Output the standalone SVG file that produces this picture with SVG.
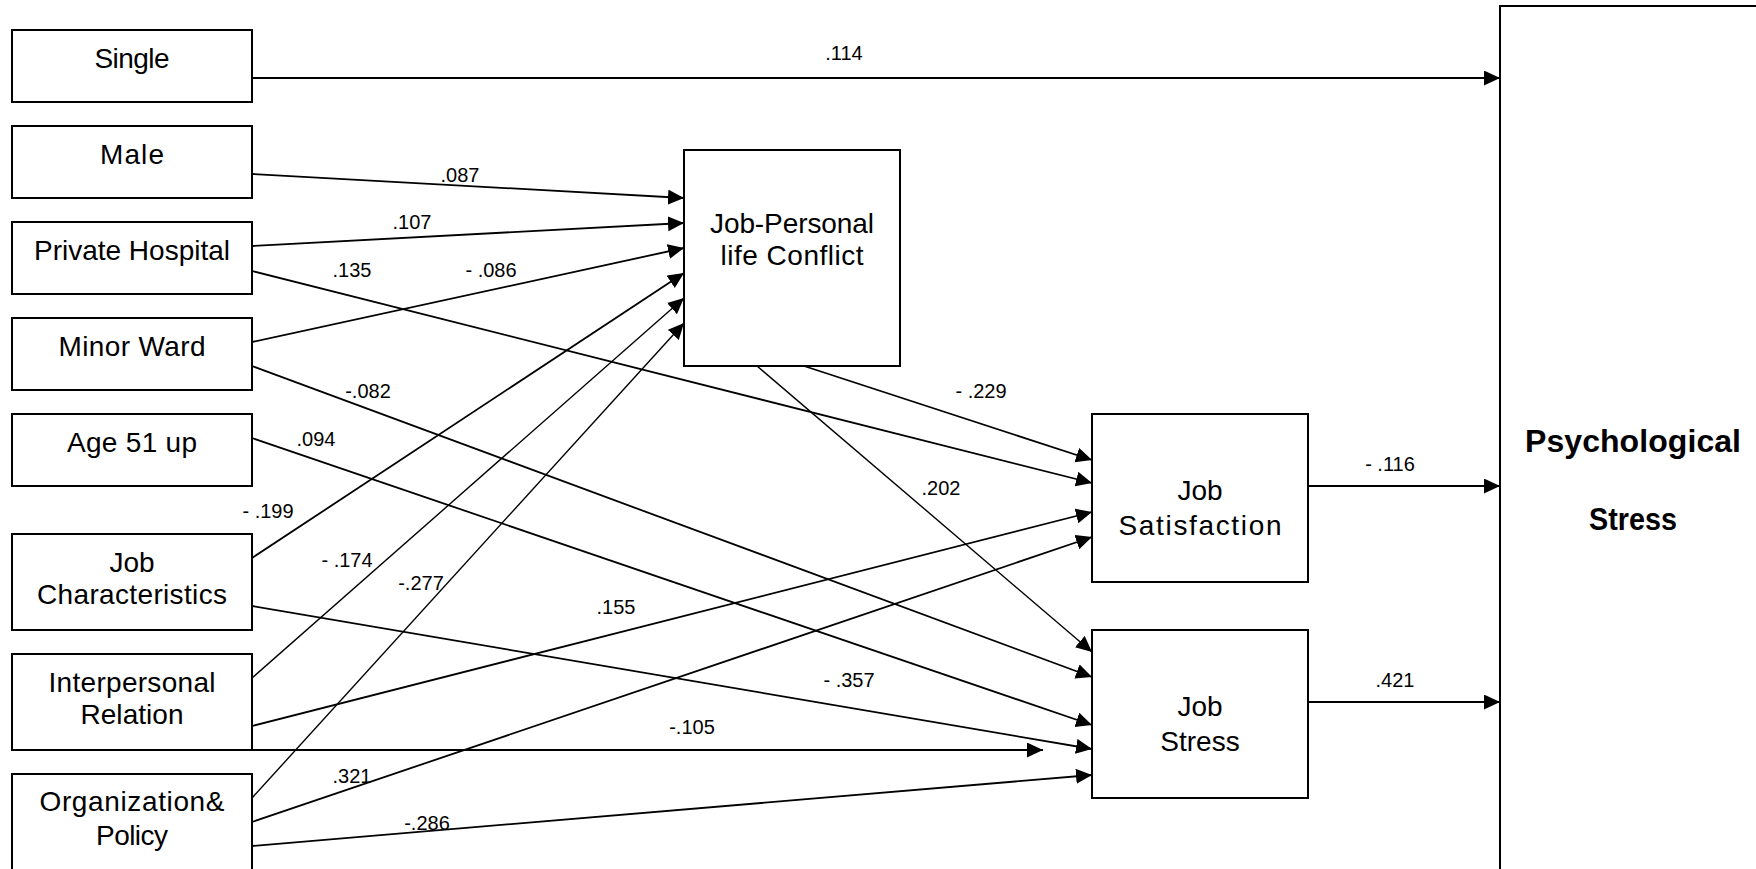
<svg xmlns="http://www.w3.org/2000/svg" width="1756" height="869" viewBox="0 0 1756 869">
  <defs>
    <marker id="arrow" markerUnits="userSpaceOnUse" markerWidth="17" markerHeight="16" refX="16" refY="7.5" orient="auto">
      <path d="M0,0 L16,7.5 L0,15 Z" fill="#000"/>
    </marker>
    <style>
      .box { fill: #fff; stroke: #000; stroke-width: 2; }
      .lbl { font-family: "Liberation Sans", Arial, sans-serif; font-size: 28px; fill: #000; text-anchor: middle; }
      .big { font-family: "Liberation Sans", Arial, sans-serif; font-size: 32px; font-weight: bold; fill: #000; text-anchor: middle; }
      .coef { font-family: "Liberation Sans", Arial, sans-serif; font-size: 20px; fill: #000; text-anchor: middle; }
      .edge { fill: none; stroke: #000; stroke-width: 1.8; marker-end: url(#arrow); }
      .thin { stroke-width: 1.4; }
    </style>
  </defs>
  <rect width="1756" height="869" fill="#fff"/>

  <!-- connectors -->
  <g id="connectors">
    <line class="edge" x1="252" y1="78" x2="1500" y2="78"/>
    <line class="edge" x1="252" y1="174" x2="684" y2="198"/>
    <line class="edge" x1="252" y1="246" x2="684" y2="223"/>
    <line class="edge" x1="252" y1="342" x2="684" y2="248"/>
    <line class="edge" x1="252" y1="558" x2="684" y2="273"/>
    <line class="edge thin" x1="252" y1="678" x2="684" y2="298"/>
    <line class="edge thin" x1="252" y1="798" x2="684" y2="323"/>
    <line class="edge" x1="252" y1="271" x2="1092" y2="483"/>
    <line class="edge" x1="252" y1="366" x2="1092" y2="677"/>
    <line class="edge" x1="252" y1="438" x2="1092" y2="725"/>
    <line class="edge" x1="252" y1="606" x2="1092" y2="749"/>
    <line class="edge" x1="252" y1="726" x2="1092" y2="512"/>
    <line class="edge" x1="252" y1="750" x2="1043" y2="750"/>
    <line class="edge" x1="252" y1="822" x2="1092" y2="537"/>
    <line class="edge" x1="252" y1="846" x2="1092" y2="775"/>
    <line class="edge" x1="804" y1="366" x2="1092" y2="460"/>
    <line class="edge thin" x1="757" y1="366" x2="1092" y2="652"/>
    <line class="edge" x1="1308" y1="486" x2="1500" y2="486"/>
    <line class="edge" x1="1308" y1="702" x2="1500" y2="702"/>

    <!-- path coefficients -->
    <text class="coef" x="844" y="60">.114</text>
    <text class="coef" x="460" y="182">.087</text>
    <text class="coef" x="412" y="229">.107</text>
    <text class="coef" x="352" y="277">.135</text>
    <text class="coef" x="491" y="277">- .086</text>
    <text class="coef" x="368" y="398">-.082</text>
    <text class="coef" x="316" y="446">.094</text>
    <text class="coef" x="268" y="518">- .199</text>
    <text class="coef" x="347" y="567">- .174</text>
    <text class="coef" x="421" y="590">-.277</text>
    <text class="coef" x="616" y="614">.155</text>
    <text class="coef" x="849" y="687">- .357</text>
    <text class="coef" x="692" y="734">-.105</text>
    <text class="coef" x="352" y="783">.321</text>
    <text class="coef" x="427" y="830">-.286</text>
    <text class="coef" x="981" y="398">- .229</text>
    <text class="coef" x="941" y="495">.202</text>
    <text class="coef" x="1390" y="471">- .116</text>
    <text class="coef" x="1395" y="687">.421</text>
  </g>

  <!-- predictors -->
  <g id="single">
    <rect class="box" x="12" y="30" width="240" height="72"/>
    <text class="lbl" x="132" y="68" textLength="75">Single</text>
  </g>
  <g id="male">
    <rect class="box" x="12" y="126" width="240" height="72"/>
    <text class="lbl" x="132" y="164" textLength="64">Male</text>
  </g>
  <g id="private-hospital">
    <rect class="box" x="12" y="222" width="240" height="72"/>
    <text class="lbl" x="132" y="260" textLength="196">Private Hospital</text>
  </g>
  <g id="minor-ward">
    <rect class="box" x="12" y="318" width="240" height="72"/>
    <text class="lbl" x="132" y="356" textLength="147">Minor Ward</text>
  </g>
  <g id="age-51-up">
    <rect class="box" x="12" y="414" width="240" height="72"/>
    <text class="lbl" x="132" y="452" textLength="130">Age 51 up</text>
  </g>
  <g id="job-characteristics">
    <rect class="box" x="12" y="534" width="240" height="96"/>
    <text class="lbl" x="132" y="572">Job</text>
    <text class="lbl" x="132" y="604" textLength="190">Characteristics</text>
  </g>
  <g id="interpersonal-relation">
    <rect class="box" x="12" y="654" width="240" height="96"/>
    <text class="lbl" x="132" y="692" textLength="167">Interpersonal</text>
    <text class="lbl" x="132" y="724" textLength="103">Relation</text>
  </g>
  <g id="organization-policy">
    <rect class="box" x="12" y="774" width="240" height="110"/>
    <text class="lbl" x="132" y="811" textLength="185">Organization&amp;</text>
    <text class="lbl" x="132" y="845" textLength="72">Policy</text>
  </g>

  <!-- mediators -->
  <g id="job-personal-conflict">
    <rect class="box" x="684" y="150" width="216" height="216"/>
    <text class="lbl" x="792" y="233" textLength="164">Job-Personal</text>
    <text class="lbl" x="792" y="265" textLength="143">life Conflict</text>
  </g>
  <g id="job-satisfaction">
    <rect class="box" x="1092" y="414" width="216" height="168"/>
    <text class="lbl" x="1200" y="500">Job</text>
    <text class="lbl" x="1200" y="535" textLength="163">Satisfaction</text>
  </g>
  <g id="job-stress">
    <rect class="box" x="1092" y="630" width="216" height="168"/>
    <text class="lbl" x="1200" y="716">Job</text>
    <text class="lbl" x="1200" y="751">Stress</text>
  </g>

  <!-- outcome -->
  <g id="psychological-stress">
    <rect class="box" x="1500" y="6" width="300" height="900"/>
    <text class="big" x="1633" y="452" textLength="216">Psychological</text>
    <text class="big" x="1633" y="530" textLength="88" lengthAdjust="spacingAndGlyphs">Stress</text>
  </g>
</svg>
